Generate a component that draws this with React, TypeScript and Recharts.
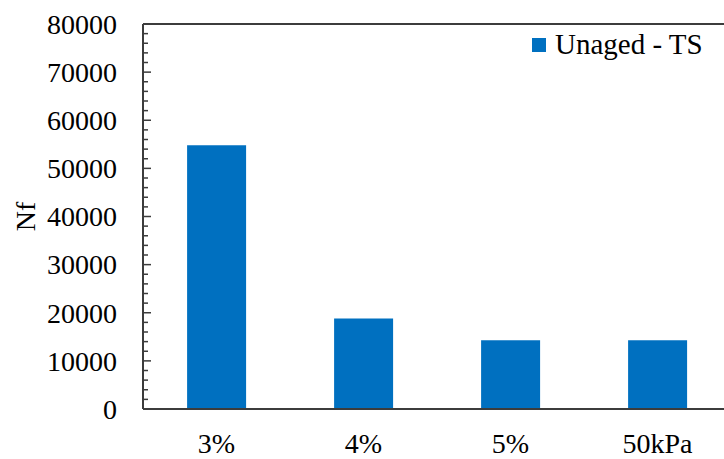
import { BarChart, Bar, XAxis, YAxis, Legend, ReferenceLine } from "recharts"

const categories = ["3%", "4%", "5%", "50kPa"]
const unagedTS = [54800, 18800, 14300, 14300]
const majorTicks = [0, 10000, 20000, 30000, 40000, 50000, 60000, 70000, 80000]
const minorStep = 2000

const data = categories.map((cat, i) => ({ cat, value: unagedTS[i] }))

// minor ticks every 2000 between the labelled ones
const allTicks: number[] = []
for (let v = 0; v <= majorTicks[majorTicks.length - 1]; v += minorStep) allTicks.push(v)

const FONT = "'Liberation Serif', 'Times New Roman', serif"
const AXIS = "#3c3c3c"
const BLUE = "#0070C0"
const LABEL_GAP = 26

function YTick({ x, y, payload }: any) {
  const axisX = x + LABEL_GAP
  const major = majorTicks.includes(payload.value)
  return (
    <g>
      <line x1={axisX} x2={axisX + (major ? 8 : 5)} y1={y} y2={y} stroke={AXIS} strokeWidth={1.5} />
      {major && (
        <text x={x} y={y} dy="0.35em" textAnchor="end" fill="#000" fontSize={28} fontFamily={FONT}>
          {payload.value}
        </text>
      )}
    </g>
  )
}

function YLabel({ viewBox }: any) {
  const cx = viewBox.x + 25
  const cy = viewBox.y + viewBox.height / 2
  return (
    <text
      x={cx}
      y={cy}
      dy="0.35em"
      textAnchor="middle"
      transform={`rotate(-90, ${cx}, ${cy})`}
      fill="#000"
      fontSize={28}
      fontFamily={FONT}
    >
      Nf
    </text>
  )
}

function LegendBox() {
  return (
    <div style={{ display: "flex", alignItems: "center", fontFamily: FONT, fontSize: 29, color: "#000", whiteSpace: "nowrap" }}>
      <span style={{ width: 14, height: 14, background: BLUE, marginRight: 9, display: "inline-block" }} />
      <span>Unaged - TS</span>
    </div>
  )
}

export default function App() {
  return (
    <div style={{ position: "absolute", left: 0, top: 0, width: 724, height: 459, overflow: "hidden", background: "#fff" }}>
      <BarChart
        width={740}
        height={459}
        data={data}
        margin={{ top: 24, right: 9, left: 0, bottom: 0 }}
        barCategoryGap="30%"
      >
        <XAxis
          dataKey="cat"
          height={50}
          tickLine={false}
          tickSize={0}
          tickMargin={24}
          axisLine={{ stroke: AXIS, strokeWidth: 2 }}
          tick={{ fill: "#000", fontSize: 28, fontFamily: FONT }}
          interval={0}
        />
        <YAxis
          width={143}
          domain={[0, 80000]}
          ticks={allTicks}
          interval={0}
          tickLine={false}
          tickSize={0}
          tickMargin={LABEL_GAP}
          axisLine={{ stroke: AXIS, strokeWidth: 2 }}
          tick={<YTick />}
          label={<YLabel />}
        />
        <ReferenceLine y={80000} stroke={AXIS} strokeWidth={2} />
        <Legend
          layout="vertical"
          align="center"
          verticalAlign="middle"
          content={<LegendBox />}
          wrapperStyle={{ top: 28, left: 532, width: "auto", height: "auto" }}
        />
        <Bar dataKey="value" name="Unaged - TS" fill={BLUE} isAnimationActive={false} />
      </BarChart>
    </div>
  )
}
